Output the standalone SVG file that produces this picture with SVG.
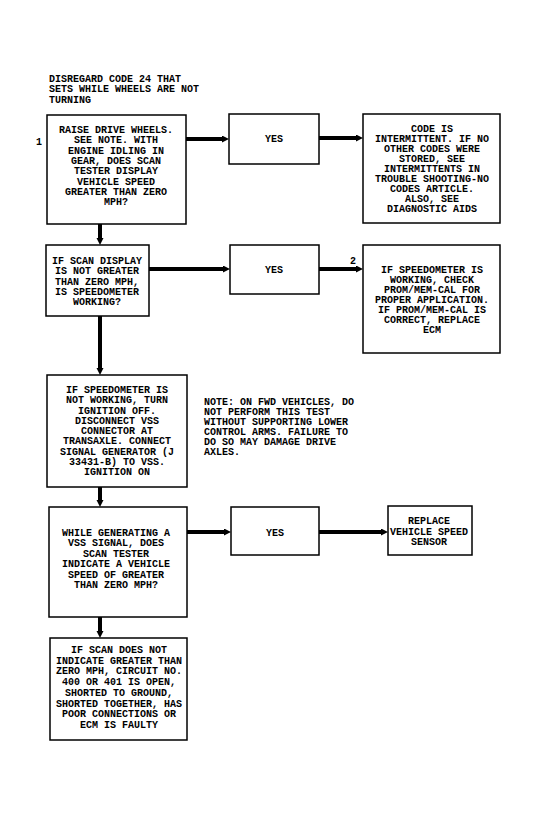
<svg xmlns="http://www.w3.org/2000/svg" width="539" height="828" viewBox="0 0 539 828">
<style>
.box{fill:#fff;stroke:#000;stroke-width:1.5}
.t{font-family:"Liberation Mono","DejaVu Sans Mono",monospace;font-size:10px;font-weight:bold;fill:#000}
.c{text-anchor:middle}
.conn{stroke:#000;stroke-width:4;fill:none}
</style>
<defs>
<marker id="ah" markerUnits="userSpaceOnUse" markerWidth="8" markerHeight="8" refX="0" refY="3.5" orient="auto">
<path d="M0,0 L7,3.5 L0,7 z" fill="#000"/>
</marker>
</defs>
<rect width="539" height="828" fill="#fff"/>
<g id="title">
<text class="t" x="49" y="82">DISREGARD CODE 24 THAT</text>
<text class="t" x="49" y="92.4">SETS WHILE WHEELS ARE NOT</text>
<text class="t" x="49" y="102.8">TURNING</text>
</g>
<g id="connectors">
<path class="conn" d="M186,139 H222" marker-end="url(#ah)"/>
<path class="conn" d="M319,138 H356" marker-end="url(#ah)"/>
<path class="conn" d="M100,224 V238" marker-end="url(#ah)"/>
<path class="conn" d="M149,269 H223" marker-end="url(#ah)"/>
<path class="conn" d="M319,269 H356" marker-end="url(#ah)"/>
<path class="conn" d="M100,316 V368" marker-end="url(#ah)"/>
<path class="conn" d="M100,487 V500" marker-end="url(#ah)"/>
<path class="conn" d="M187,532 H224" marker-end="url(#ah)"/>
<path class="conn" d="M319,532 H381" marker-end="url(#ah)"/>
<path class="conn" d="M100,617 V631" marker-end="url(#ah)"/>
</g>
<g id="label1"><text class="t" x="36" y="145">1</text></g>
<g id="label2"><text class="t" x="350" y="264">2</text></g>
<g id="n1">
<rect class="box" x="47" y="115" width="139" height="109"/>
<text class="t c" x="116" y="133">RAISE DRIVE WHEELS.</text>
<text class="t c" x="116" y="143.3">SEE NOTE. WITH</text>
<text class="t c" x="116" y="153.6">ENGINE IDLING IN</text>
<text class="t c" x="116" y="164">GEAR, DOES SCAN</text>
<text class="t c" x="116" y="174.2">TESTER DISPLAY</text>
<text class="t c" x="116" y="184.5">VEHICLE SPEED</text>
<text class="t c" x="116" y="194.8">GREATER THAN ZERO</text>
<text class="t c" x="116" y="205">MPH?</text>
</g>
<g id="yes1">
<rect class="box" x="229" y="114" width="90" height="50"/>
<text class="t c" x="274" y="142">YES</text>
</g>
<g id="n3">
<rect class="box" x="363" y="114" width="137" height="109"/>
<text class="t c" x="432" y="132">CODE IS</text>
<text class="t c" x="432" y="142">INTERMITTENT. IF NO</text>
<text class="t c" x="432" y="152">OTHER CODES WERE</text>
<text class="t c" x="432" y="162">STORED, SEE</text>
<text class="t c" x="432" y="172">INTERMITTENTS IN</text>
<text class="t c" x="432" y="182">TROUBLE SHOOTING-NO</text>
<text class="t c" x="432" y="192">CODES ARTICLE.</text>
<text class="t c" x="432" y="202">ALSO, SEE</text>
<text class="t c" x="432" y="212">DIAGNOSTIC AIDS</text>
</g>
<g id="n2">
<rect class="box" x="46" y="245" width="103" height="71"/>
<text class="t c" x="97" y="264">IF SCAN DISPLAY</text>
<text class="t c" x="97" y="274.2">IS NOT GREATER</text>
<text class="t c" x="97" y="284.5">THAN ZERO MPH,</text>
<text class="t c" x="97" y="294.8">IS SPEEDOMETER</text>
<text class="t c" x="97" y="305">WORKING?</text>
</g>
<g id="yes2">
<rect class="box" x="230" y="245" width="89" height="49"/>
<text class="t c" x="274" y="273">YES</text>
</g>
<g id="n5">
<rect class="box" x="363" y="245" width="137" height="108"/>
<text class="t c" x="432" y="273">IF SPEEDOMETER IS</text>
<text class="t c" x="432" y="283">WORKING, CHECK</text>
<text class="t c" x="432" y="293">PROM/MEM-CAL FOR</text>
<text class="t c" x="432" y="303">PROPER APPLICATION.</text>
<text class="t c" x="432" y="313">IF PROM/MEM-CAL IS</text>
<text class="t c" x="432" y="323">CORRECT, REPLACE</text>
<text class="t c" x="432" y="333">ECM</text>
</g>
<g id="n4">
<rect class="box" x="47" y="375" width="140" height="112"/>
<text class="t c" x="117" y="393">IF SPEEDOMETER IS</text>
<text class="t c" x="117" y="403.2">NOT WORKING, TURN</text>
<text class="t c" x="117" y="413.5">IGNITION OFF.</text>
<text class="t c" x="117" y="423.8">DISCONNECT VSS</text>
<text class="t c" x="117" y="434">CONNECTOR AT</text>
<text class="t c" x="117" y="444.2">TRANSAXLE. CONNECT</text>
<text class="t c" x="117" y="454.5">SIGNAL GENERATOR (J</text>
<text class="t c" x="117" y="464.8">33431-B) TO VSS.</text>
<text class="t c" x="117" y="475">IGNITION ON</text>
</g>
<g id="note">
<text class="t" x="204" y="405">NOTE: ON FWD VEHICLES, DO</text>
<text class="t" x="204" y="415">NOT PERFORM THIS TEST</text>
<text class="t" x="204" y="425">WITHOUT SUPPORTING LOWER</text>
<text class="t" x="204" y="435">CONTROL ARMS. FAILURE TO</text>
<text class="t" x="204" y="445">DO SO MAY DAMAGE DRIVE</text>
<text class="t" x="204" y="455">AXLES.</text>
</g>
<g id="n6">
<rect class="box" x="49" y="507" width="138" height="110"/>
<text class="t c" x="116" y="536">WHILE GENERATING A</text>
<text class="t c" x="116" y="546.4">VSS SIGNAL, DOES</text>
<text class="t c" x="116" y="556.8">SCAN TESTER</text>
<text class="t c" x="116" y="567.2">INDICATE A VEHICLE</text>
<text class="t c" x="116" y="577.6">SPEED OF GREATER</text>
<text class="t c" x="116" y="588">THAN ZERO MPH?</text>
</g>
<g id="yes3">
<rect class="box" x="231" y="507" width="88" height="48"/>
<text class="t c" x="275" y="536">YES</text>
</g>
<g id="n7">
<rect class="box" x="388" y="506" width="84" height="49"/>
<text class="t c" x="429" y="524">REPLACE</text>
<text class="t c" x="429" y="534.5">VEHICLE SPEED</text>
<text class="t c" x="429" y="545">SENSOR</text>
</g>
<g id="n8">
<rect class="box" x="50" y="638" width="137" height="102"/>
<text class="t c" x="119" y="653">IF SCAN DOES NOT</text>
<text class="t c" x="119" y="663.7">INDICATE GREATER THAN</text>
<text class="t c" x="119" y="674.4">ZERO MPH, CIRCUIT NO.</text>
<text class="t c" x="119" y="685.1">400 OR 401 IS OPEN,</text>
<text class="t c" x="119" y="695.8">SHORTED TO GROUND,</text>
<text class="t c" x="119" y="706.5">SHORTED TOGETHER, HAS</text>
<text class="t c" x="119" y="717.2">POOR CONNECTIONS OR</text>
<text class="t c" x="119" y="728">ECM IS FAULTY</text>
</g>
</svg>
